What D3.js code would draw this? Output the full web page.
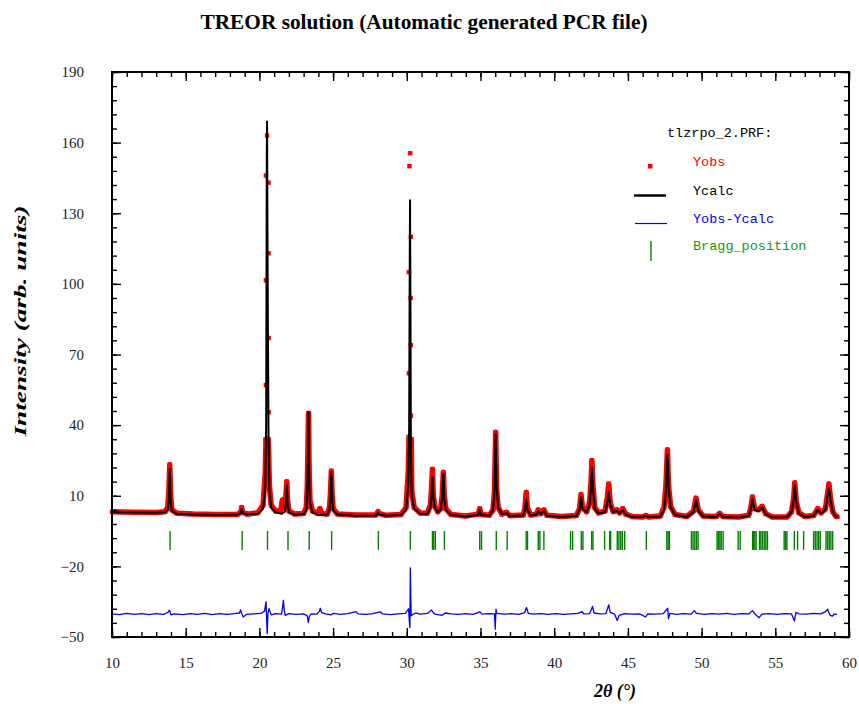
<!DOCTYPE html>
<html lang="en">
<head>
<meta charset="utf-8">
<title>TREOR solution</title>
<style>
body { margin: 0; background: #fff; }
svg { display: block; }
.axis text { font: 15px "Liberation Serif", "Times New Roman", serif; fill: #222; }
.axis line { stroke: #000; stroke-width: 1.4; }
.axis path { display: none; }
.legend text { font: 13.5px "Liberation Mono", "Courier New", monospace; }
</style>
</head>
<body>
<svg width="859" height="704"></svg>
<script src="https://cdn.jsdelivr.net/npm/d3@7"></script>
<script>

// axis ticks
const xTicks = [10, 15, 20, 25, 30, 35, 40, 45, 50, 55, 60];
const yTicks = [-50, -20, 10, 40, 70, 100, 130, 160, 190];

// calculated profile, [2theta, intensity]
const calcProfile = [
  [10.0, 3.0], [11.5, 2.9], [13.0, 2.8], [13.6, 3.0], [13.78, 4.0], [13.86, 8], [13.92, 21.5], [13.98, 8], [14.06, 3.6],
  [14.4, 2.4], [15.5, 2.0], [17.0, 1.8], [18.5, 1.9], [18.74, 2.6], [18.80, 4.5], [18.86, 2.6], [19.2, 2.0], [19.9, 2.4],
  [20.25, 4.5], [20.40, 14], [20.46, 40], [20.50, 155], [20.52, 169], [20.55, 120], [20.58, 78], [20.62, 35], [20.68, 12],
  [20.8, 5], [21.1, 3], [21.5, 2.3], [21.72, 3.2], [21.80, 7], [21.86, 14.5], [21.91, 7], [22.0, 3], [22.4, 2.0],
  [23.0, 2.2], [23.18, 4], [23.25, 12], [23.30, 30], [23.33, 45.5], [23.37, 20], [23.43, 7], [23.6, 3], [24.0, 1.8],
  [24.6, 2.0], [24.76, 4], [24.83, 10], [24.88, 20], [24.93, 10], [25.0, 4], [25.3, 2], [26.5, 1.5], [27.9, 1.6],
  [28.05, 2.8], [28.1, 2.2], [28.6, 1.5], [29.6, 1.8], [29.95, 4], [30.10, 15], [30.16, 39], [30.20, 110], [30.22, 135.5],
  [30.25, 87], [30.28, 26], [30.34, 10], [30.5, 4.5], [30.9, 2.4], [31.4, 2.3], [31.6, 5], [31.68, 10], [31.74, 18],
  [31.8, 9], [31.9, 5], [32.1, 3], [32.3, 4], [32.4, 9], [32.48, 19.5], [32.54, 9], [32.65, 4], [33.0, 1.8], [34.0, 1.2],
  [34.85, 1.8], [34.95, 4], [35.05, 1.8], [35.6, 1.5], [35.85, 4], [35.95, 12], [36.03, 36], [36.09, 14], [36.2, 5],
  [36.45, 2.2], [36.75, 2.5], [37.0, 1.4], [37.9, 1.6], [38.02, 4], [38.10, 8.5], [38.18, 4], [38.4, 1.6], [38.8, 2],
  [38.92, 3.5], [39.1, 2.2], [39.30, 3.5], [39.5, 1.5], [40.5, 1.0], [41.5, 1.4], [41.72, 4], [41.82, 9.5], [41.92, 4.5],
  [42.2, 3], [42.4, 6], [42.5, 14], [42.56, 22], [42.62, 14], [42.75, 4.5], [43.0, 2.5], [43.45, 3], [43.6, 7],
  [43.70, 11.5], [43.8, 6], [44.0, 3], [44.24, 3.5], [44.45, 2.5], [44.65, 4], [44.85, 2], [45.3, 1.0], [46.0, 0.9],
  [46.22, 1.5], [46.4, 0.9], [47.2, 1.2], [47.45, 4], [47.58, 12], [47.68, 27.5], [47.76, 13], [47.9, 5], [48.2, 1.8],
  [49.0, 1.0], [49.45, 3], [49.62, 8], [49.78, 3.5], [50.1, 1.2], [51.0, 1.0], [51.22, 2.3], [51.45, 1.0], [52.5, 0.8],
  [53.2, 1.5], [53.35, 4.5], [53.45, 8.5], [53.6, 4], [53.85, 3.5], [54.10, 5], [54.35, 2.2], [54.8, 0.8], [55.8, 0.9],
  [56.1, 3], [56.24, 8], [56.32, 14.5], [56.42, 7], [56.6, 2.5], [57.0, 1.0], [57.6, 1.4], [57.88, 4], [58.1, 2.5],
  [58.4, 4], [58.55, 10], [58.64, 13.5], [58.75, 8], [58.9, 3], [59.1, 1.2], [59.22, 0.8]
];

// observed band (dense points), [2theta, intensity]
const obsProfile = [
  [10.0, 3.2], [11.5, 3.0], [13.0, 2.9], [13.6, 3.2], [13.78, 5], [13.86, 12], [13.92, 23.2], [13.98, 10], [14.06, 4],
  [14.4, 2.6], [15.5, 2.2], [17.0, 2.0], [18.5, 2.0], [18.74, 3], [18.80, 5], [18.86, 3], [19.2, 2.2], [19.9, 2.8],
  [20.25, 6], [20.40, 20], [20.45, 34], [20.60, 34], [20.68, 14], [20.8, 6], [21.1, 3.5], [21.45, 3.5], [21.55, 8],
  [21.65, 8.5], [21.75, 5], [21.80, 10], [21.86, 16], [21.91, 8], [22.0, 3.5], [22.4, 2.2], [23.0, 2.5], [23.18, 5],
  [23.25, 14], [23.30, 32], [23.33, 45], [23.37, 22], [23.43, 8], [23.6, 3.5], [24.0, 2.5], [24.1, 4.5], [24.25, 2.5],
  [24.6, 2.2], [24.76, 5], [24.83, 12], [24.88, 20.5], [24.93, 11], [25.0, 4.5], [25.3, 2.2], [26.5, 1.8], [27.9, 1.8],
  [28.05, 3.2], [28.1, 2.5], [28.6, 1.7], [29.6, 2.0], [29.95, 5], [30.10, 20], [30.15, 34], [30.30, 34], [30.34, 12],
  [30.5, 5], [30.9, 2.7], [31.4, 2.6], [31.6, 6], [31.68, 13], [31.74, 21.3], [31.8, 10], [31.9, 5.5], [32.1, 3.2],
  [32.3, 4.5], [32.4, 10], [32.48, 20], [32.54, 10], [32.65, 4.5], [33.0, 2.0], [34.0, 1.4], [34.85, 2.2], [34.95, 4.5],
  [35.05, 2.0], [35.6, 1.7], [35.85, 4], [35.95, 12], [36.03, 37], [36.09, 13], [36.2, 5], [36.45, 2.2], [36.75, 3],
  [37.0, 1.5], [37.9, 1.8], [38.02, 5], [38.10, 11.5], [38.18, 5], [38.4, 1.8], [38.8, 2.2], [38.92, 4], [39.1, 2.4],
  [39.30, 4], [39.5, 1.7], [40.5, 1.2], [41.5, 1.6], [41.72, 4.5], [41.82, 10.5], [41.92, 5], [42.2, 3.2], [42.4, 7],
  [42.5, 16], [42.56, 25], [42.62, 15], [42.75, 5], [43.0, 2.7], [43.45, 3.5], [43.6, 9], [43.70, 15], [43.8, 7],
  [44.0, 3.2], [44.24, 4], [44.45, 2.7], [44.65, 4.5], [44.85, 2.2], [45.3, 1.2], [46.0, 1.0], [46.22, 1.6], [46.4, 1.0],
  [47.2, 1.4], [47.45, 5], [47.58, 14], [47.68, 29.5], [47.76, 14], [47.9, 5.5], [48.2, 2.0], [49.0, 1.2], [49.45, 3.5],
  [49.62, 9], [49.78, 4], [50.1, 1.4], [51.0, 1.2], [51.22, 2.5], [51.45, 1.2], [52.5, 1.0], [53.2, 1.7], [53.35, 5],
  [53.45, 9.5], [53.6, 4.5], [53.85, 4], [54.10, 5.5], [54.35, 2.4], [54.8, 1.0], [55.8, 1.0], [56.1, 3.2], [56.24, 8.5],
  [56.32, 15.5], [56.42, 7.5], [56.6, 2.7], [57.0, 1.2], [57.6, 1.6], [57.88, 4.5], [58.1, 2.7], [58.4, 4.5], [58.55, 11],
  [58.64, 15], [58.75, 8.5], [58.9, 3.2], [59.1, 1.4], [59.22, 1.0]
];

// single observed points on the two strong peaks
const obsPoints = [
  [20.44, 146], [20.44, 101.5], [20.44, 57], [20.43, 34], [20.52, 163], [20.62, 143], [20.62, 113],
  [20.63, 77], [20.63, 45.5], [20.64, 25],
  [30.23, 155.5], [30.18, 150], [30.27, 120], [30.14, 105], [30.26, 94], [30.27, 74], [30.14, 62],
  [30.28, 44], [30.12, 35], [30.30, 26]
];

// Yobs - Ycalc, drawn shifted to -40
const diffProfile = [
  [10.0, -40.2], [10.5, -40.5], [11.0, -40.0], [11.5, -40.4], [12.0, -40.1], [12.5, -40.5], [13.0, -40.1], [13.5, -40.4],
  [13.8, -39.5], [13.9, -38.6], [14.0, -40.6], [14.2, -40.2], [14.8, -40.5], [15.3, -40.1], [15.8, -40.4], [16.3, -40.0],
  [16.8, -40.5], [17.3, -40.1], [17.8, -40.4], [18.3, -40.1], [18.65, -39.8], [18.72, -38.5], [18.80, -40.0], [18.9, -41.5],
  [19.1, -40.4], [19.6, -40.2], [20.1, -40.0], [20.35, -39.0], [20.45, -35.0], [20.5, -44], [20.53, -48.6], [20.58, -40],
  [20.65, -38], [20.8, -40.6], [21.1, -40.1], [21.5, -40.3], [21.58, -37], [21.63, -34.4], [21.68, -38.5], [21.75, -40.8],
  [22.0, -40.1], [22.5, -40.4], [23.0, -40.2], [23.25, -41], [23.32, -43.9], [23.38, -41.5], [23.5, -40.2], [23.9, -40.3],
  [24.08, -39], [24.13, -37.8], [24.22, -39.6], [24.5, -40.2], [24.85, -40.6], [25.0, -40.0], [25.5, -40.4], [26.0, -40.1],
  [26.55, -39.2], [26.7, -40.2], [27.2, -40.4], [27.7, -40.1], [28.2, -39.3], [28.35, -40.2], [28.9, -40.5], [29.4, -40.2],
  [29.9, -40.0], [30.12, -38], [30.18, -44], [30.21, -46], [30.24, -20.6], [30.27, -33], [30.30, -41], [30.4, -40.5],
  [30.6, -39.8], [30.9, -40.3], [31.4, -40.0], [31.68, -38.5], [31.78, -39.6], [31.9, -40.3], [32.4, -40.8], [32.6, -39.8],
  [33.0, -40.2], [33.5, -40.4], [34.0, -40.1], [34.5, -40.4], [34.95, -39.3], [35.1, -40.3], [35.6, -40.1], [35.95, -40.2],
  [36.0, -46.7], [36.05, -38.2], [36.1, -40.0], [36.6, -40.3], [37.1, -40.1], [37.6, -40.4], [38.0, -39.6], [38.12, -37.5],
  [38.25, -40], [38.6, -40.3], [39.1, -40.1], [39.6, -40.4], [40.1, -40.1], [40.6, -40.4], [41.1, -40.2], [41.6, -40.0],
  [41.9, -39.2], [42.0, -40.2], [42.4, -40.1], [42.6, -37], [42.7, -39.8], [43.1, -40.2], [43.5, -40.1], [43.7, -36.4],
  [43.8, -39.5], [44.1, -40.3], [44.28, -43], [44.4, -40.8], [44.8, -40.1], [45.3, -40.3], [45.8, -40.2], [46.2, -41.5],
  [46.35, -40.2], [46.9, -40.3], [47.4, -40.1], [47.7, -37.8], [47.75, -42.2], [47.85, -40.0], [48.3, -40.4], [48.8, -40.1],
  [49.3, -40.3], [49.5, -38.8], [49.65, -40.0], [50.2, -40.4], [50.7, -40.1], [51.2, -40.3], [51.7, -40.0], [52.2, -40.4],
  [52.7, -40.1], [53.2, -40.2], [53.45, -38.8], [53.6, -40.1], [53.9, -41.8], [54.1, -40.3], [54.6, -40.1], [55.1, -40.4],
  [55.6, -40.1], [56.1, -40.2], [56.3, -43.2], [56.4, -39.5], [56.6, -40.2], [57.1, -40.3], [57.6, -40.0], [58.1, -40.2],
  [58.4, -39.2], [58.55, -38.2], [58.7, -40.6], [58.85, -41.2], [59.0, -40.3], [59.18, -40.4]
];

// Bragg reflections (2theta)
const braggPositions = [
  13.94, 18.83, 20.55, 21.94, 23.38, 24.90, 28.07, 30.24, 31.74, 31.83, 31.94, 32.55, 34.95, 35.07,
  36.07, 36.81, 38.10, 38.19, 38.92, 39.03, 39.30, 41.11, 41.25, 41.84, 41.95, 42.54, 42.63, 43.42,
  43.76, 43.83, 44.28, 44.39, 44.51, 44.62, 44.78, 46.25, 47.64, 47.73, 47.82, 49.31, 49.42, 49.54,
  49.65, 49.76, 51.05, 51.14, 51.24, 51.33, 51.46, 52.48, 52.62, 53.46, 53.52, 53.61, 53.70, 53.93,
  54.02, 54.13, 54.25, 54.36, 54.47, 55.60, 55.70, 55.79, 56.29, 56.51, 56.92, 57.60, 57.71, 57.83,
  57.94, 58.05, 58.44, 58.55, 58.66, 58.77, 58.89
];
const braggTop = -5, braggBottom = -13;

const svg = d3.select("svg");

const x = d3.scaleLinear().domain([10, 60]).range([112, 849]);
const y = d3.scaleLinear().domain([-50, 190]).range([637, 72]);

const line = d3.line().x(d => x(d[0])).y(d => y(d[1]));

// observed (dense band of points)
svg.append("path")
    .datum(obsProfile)
    .attr("d", line)
    .attr("fill", "none")
    .attr("stroke", "#ff0000")
    .attr("stroke-width", 5.5)
    .attr("stroke-linejoin", "round");

svg.selectAll(".obs")
    .data(obsProfile.concat(obsPoints))
  .enter().append("rect")
    .attr("class", "obs")
    .attr("x", d => x(d[0]) - 2.2)
    .attr("y", d => y(d[1]) - 2.2)
    .attr("width", 4.4)
    .attr("height", 4.4)
    .attr("fill", "#ff0000");

// Bragg positions
svg.selectAll(".bragg")
    .data(braggPositions)
  .enter().append("line")
    .attr("class", "bragg")
    .attr("x1", d => x(d)).attr("x2", d => x(d))
    .attr("y1", y(braggTop)).attr("y2", y(braggBottom))
    .attr("stroke", "#008000")
    .attr("stroke-width", 1.4);

// calculated
svg.append("path")
    .datum(calcProfile)
    .attr("d", line)
    .attr("fill", "none")
    .attr("stroke", "#000")
    .attr("stroke-width", 2)
    .attr("stroke-linejoin", "round");

// difference
svg.append("path")
    .datum(diffProfile)
    .attr("d", line)
    .attr("fill", "none")
    .attr("stroke", "#0000ff")
    .attr("stroke-width", 1.3)
    .attr("stroke-linejoin", "round");

// minor tick positions
const xMinor = d3.range(10, 60.01, 1);
const yMinor = d3.range(-50, 190.01, 6);

function addAxis(axis, tr) {
  svg.append("g").attr("class", "axis").attr("transform", tr).call(axis);
}
addAxis(d3.axisBottom(x).tickValues(xMinor).tickSize(-5).tickFormat(""), "translate(0,637)");
addAxis(d3.axisBottom(x).tickValues(xTicks).tickSize(-9).tickPadding(20).tickFormat(d3.format("d")), "translate(0,637)");
addAxis(d3.axisTop(x).tickValues(xMinor).tickSize(-5).tickFormat(""), "translate(0,72)");
addAxis(d3.axisTop(x).tickValues(xTicks).tickSize(-9).tickFormat(""), "translate(0,72)");
addAxis(d3.axisLeft(y).tickValues(yMinor).tickSize(-5).tickFormat(""), "translate(112,0)");
addAxis(d3.axisLeft(y).tickValues(yTicks).tickSize(-9).tickPadding(28).tickFormat(d3.format("d")), "translate(112,0)");
addAxis(d3.axisRight(y).tickValues(yMinor).tickSize(-5).tickFormat(""), "translate(849,0)");
addAxis(d3.axisRight(y).tickValues(yTicks).tickSize(-9).tickFormat(""), "translate(849,0)");

svg.append("rect")
    .attr("x", 112).attr("y", 72)
    .attr("width", 737).attr("height", 565)
    .attr("fill", "none")
    .attr("stroke", "#000")
    .attr("stroke-width", 2);

// title and axis labels
svg.append("text")
    .attr("x", 424).attr("y", 29)
    .attr("text-anchor", "middle")
    .attr("textLength", 447)
    .attr("lengthAdjust", "spacingAndGlyphs")
    .style("font", "bold 20px 'Liberation Serif', serif")
    .text("TREOR solution (Automatic generated PCR file)");

svg.append("text")
    .attr("transform", "translate(26,321) rotate(-90)")
    .attr("text-anchor", "middle")
    .attr("textLength", 231)
    .attr("lengthAdjust", "spacingAndGlyphs")
    .style("font", "bold italic 17px 'Liberation Serif', serif")
    .text("Intensity (arb. units)");

svg.append("text")
    .attr("x", 615).attr("y", 697)
    .attr("text-anchor", "middle")
    .style("font", "bold italic 18px 'Liberation Serif', serif")
    .text("2\u03b8 (\u00b0)");

// legend
const legend = svg.append("g").attr("class", "legend");
legend.append("text").attr("x", 667).attr("y", 137).attr("fill", "#000").text("tlzrpo_2.PRF:");
legend.append("rect").attr("x", 648).attr("y", 164).attr("width", 4.5).attr("height", 4.5).attr("fill", "#ff0000");
legend.append("text").attr("x", 693).attr("y", 166).attr("fill", "#ff0000").text("Yobs");
legend.append("line").attr("x1", 634).attr("x2", 666).attr("y1", 195.5).attr("y2", 195.5)
    .attr("stroke", "#000").attr("stroke-width", 2.5);
legend.append("text").attr("x", 693).attr("y", 195).attr("fill", "#000").text("Ycalc");
legend.append("line").attr("x1", 635).attr("x2", 667).attr("y1", 223.5).attr("y2", 223.5)
    .attr("stroke", "#0000ff").attr("stroke-width", 1.2);
legend.append("text").attr("x", 693).attr("y", 223).attr("fill", "#0000ff").text("Yobs-Ycalc");
legend.append("line").attr("x1", 651).attr("x2", 651).attr("y1", 241).attr("y2", 261)
    .attr("stroke", "#008000").attr("stroke-width", 1.4);
legend.append("text").attr("x", 693).attr("y", 250).attr("fill", "#119911").text("Bragg_position");

</script>
</body>
</html>
